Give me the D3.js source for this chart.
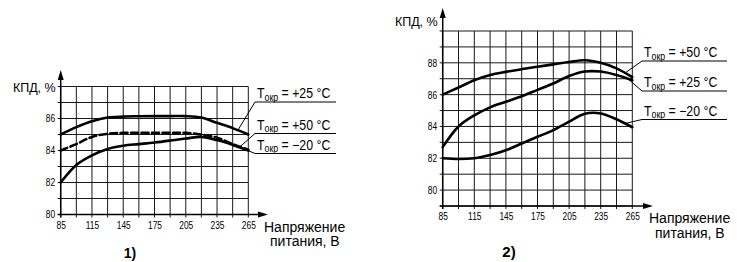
<!DOCTYPE html>
<html>
<head>
<meta charset="utf-8">
<script src="https://cdn.jsdelivr.net/npm/d3@7"></script>
<style>
body { margin: 0; background: #fff; }
svg text { font-family: "Liberation Sans", Arial, sans-serif; fill: #000; }
.grid line { stroke: #1a1a1a; stroke-width: 1; }
.curve { fill: none; stroke: #000; stroke-width: 2.6; stroke-linecap: round; }
.lead { stroke: #000; stroke-width: 1; fill: none; }
</style>
</head>
<body>
<svg id="chart" width="737" height="262"></svg>
<script>
// supply voltage, V
var volts = [85, 100, 115, 130, 145, 160, 175, 190, 205, 220, 235, 250, 265];
var xTickLabels = [85, 115, 145, 175, 205, 235, 265];

// chart 1) efficiency, %
var eff1p25 = [85.0, 85.46, 85.83, 86.06, 86.12, 86.14, 86.15, 86.15, 86.15, 86.06, 85.73, 85.4, 85.0];
var eff1p50 = [84.0, 84.4, 84.85, 85.04, 85.1, 85.1, 85.1, 85.1, 85.1, 85.0, 84.8, 84.4, 84.05];
var eff1m20 = [82.0, 83.1, 83.7, 84.1, 84.3, 84.4, 84.5, 84.62, 84.75, 84.85, 84.65, 84.35, 84.0];
var yTickLabels1 = [80, 82, 84, 86];

// chart 2) efficiency, %
var eff2p50 = [86.0, 86.45, 86.9, 87.23, 87.43, 87.6, 87.75, 87.9, 88.05, 88.16, 88.0, 87.65, 87.1];
var eff2p25 = [82.7, 84.0, 84.7, 85.2, 85.55, 85.9, 86.3, 86.7, 87.17, 87.45, 87.45, 87.23, 86.9];
var eff2m20 = [82.0, 81.95, 82.0, 82.2, 82.5, 82.93, 83.35, 83.77, 84.3, 84.8, 84.82, 84.45, 83.95];
var yTickLabels2 = [80, 82, 84, 86, 88];

var svg = d3.select("#chart");

function drawChart(opt) {
  var x = d3.scaleLinear().domain([85, 265]).range([opt.left, opt.right]);
  var y = d3.scaleLinear().domain(opt.yDomain).range([opt.bottom, opt.top]);
  var g = svg.append("g");

  // grid
  var grid = g.append("g").attr("class", "grid");
  grid.selectAll(".v").data(d3.range(85, 266, 15)).enter().append("line")
    .attr("x1", function (d) { return x(d); }).attr("x2", function (d) { return x(d); })
    .attr("y1", opt.top).attr("y2", opt.bottom + 3);
  grid.selectAll(".h").data(d3.range(opt.yDomain[0], opt.yDomain[1] + 1, 1)).enter().append("line")
    .attr("x1", opt.left - 3).attr("x2", opt.right)
    .attr("y1", function (d) { return y(d); }).attr("y2", function (d) { return y(d); });

  // tick labels (condensed digits)
  var xAxis = d3.axisBottom(x).tickValues(xTickLabels).tickSize(0).tickPadding(7);
  g.append("g").attr("transform", "translate(0," + opt.bottom + ")").call(xAxis)
    .call(function (s) { s.select(".domain").remove(); })
    .selectAll("text").style("font-size", "10.5px").attr("fill", "#000")
    .attr("transform", "scale(0.8,1)");
  var yAxis = d3.axisLeft(y).tickValues(opt.yTicks).tickSize(0).tickPadding(7);
  g.append("g").attr("transform", "translate(" + opt.left + ",0)").call(yAxis)
    .call(function (s) { s.select(".domain").remove(); })
    .selectAll("text").style("font-size", "10.5px").attr("fill", "#000")
    .attr("transform", "scale(0.8,1)");

  // axes with arrows
  g.append("line").attr("x1", opt.left).attr("x2", opt.left)
    .attr("y1", opt.bottom + 3).attr("y2", opt.arrowTop + 6)
    .attr("stroke", "#000").attr("stroke-width", 1.5);
  g.append("path").attr("d", "M" + opt.left + "," + opt.arrowTop + "l-3,10h6z");
  g.append("line").attr("x1", opt.left - 3).attr("x2", opt.arrowRight - 6)
    .attr("y1", opt.bottom).attr("y2", opt.bottom)
    .attr("stroke", "#000").attr("stroke-width", 1.5);
  g.append("path").attr("d", "M" + opt.arrowRight + "," + opt.bottom + "l-10,-3v6z");

  g.append("text").attr("x", opt.left - 5).attr("y", opt.yLabelY)
    .attr("text-anchor", "end").style("font-size", "12.5px").text("КПД, %");
  var xl = g.append("text").attr("x", opt.arrowRight - 4).attr("y", opt.bottom + 17.4)
    .style("font-size", "14px");
  xl.append("tspan").text("Напряжение");
  xl.append("tspan").attr("x", opt.arrowRight + 2).attr("dy", 14.5).text("питания, В");

  // curves
  var line = d3.line()
    .x(function (d, i) { return x(volts[i]); })
    .y(function (d) { return y(d); })
    .curve(d3.curveCatmullRom.alpha(0.5));
  opt.series.forEach(function (s) {
    g.append("path").attr("class", "curve").attr("d", line(s.values))
      .attr("stroke-dasharray", s.dashed ? "7,3.5" : null)
      .attr("stroke-linecap", s.dashed ? "butt" : "round");
  });

  // legend with leader lines
  opt.series.forEach(function (s, i) {
    var by = opt.legendY[i];
    var at = d3.scaleLinear().domain(volts).range(s.values);
    g.append("line").attr("class", "lead")
      .attr("x1", opt.legendX - 2).attr("x2", opt.legendX + opt.legendW)
      .attr("y1", by + 4).attr("y2", by + 4);
    g.append("line").attr("class", "lead")
      .attr("x1", opt.legendX - 2).attr("y1", by + 4)
      .attr("x2", x(s.leadAt)).attr("y2", y(at(s.leadAt)));
    var t = g.append("text")
      .attr("transform", "translate(" + opt.legendX + "," + by + ") scale(0.88,1)")
      .style("font-size", "14px");
    t.append("tspan").text("T");
    t.append("tspan").attr("dy", 2.5).style("font-size", "10px").text("окр");
    t.append("tspan").attr("dy", -2.5).text(" = " + s.name);
  });

  g.append("text").attr("x", opt.titleX).attr("y", opt.titleY).attr("text-anchor", "middle")
    .style("font-size", opt.titleSize).style("font-weight", "bold").text(opt.title);
}

drawChart({
  left: 60.7, right: 248.3, top: 86.5, bottom: 214.5, yDomain: [80, 88], yTicks: yTickLabels1,
  arrowTop: 70, arrowRight: 268, yLabelY: 92,
  legendX: 257, legendW: 79, legendY: [98, 129.5, 149.5],
  title: "1)", titleX: 130, titleY: 257.5, titleSize: "14px",
  series: [
    { name: "+25 °C", values: eff1p25, leadAt: 255 },
    { name: "+50 °C", values: eff1p50, dashed: true, leadAt: 257 },
    { name: "−20 °C", values: eff1m20, leadAt: 262 }
  ]
});

drawChart({
  left: 442.7, right: 632.3, top: 31, bottom: 206, yDomain: [79, 90], yTicks: yTickLabels2,
  arrowTop: 8, arrowRight: 653, yLabelY: 26,
  legendX: 644, legendW: 83, legendY: [57, 87, 115.5],
  title: "2)", titleX: 509, titleY: 256.5, titleSize: "15px",
  series: [
    { name: "+50 °C", values: eff2p50, leadAt: 258 },
    { name: "+25 °C", values: eff2p25, leadAt: 261 },
    { name: "−20 °C", values: eff2m20, leadAt: 258 }
  ]
});
</script>
</body>
</html>
